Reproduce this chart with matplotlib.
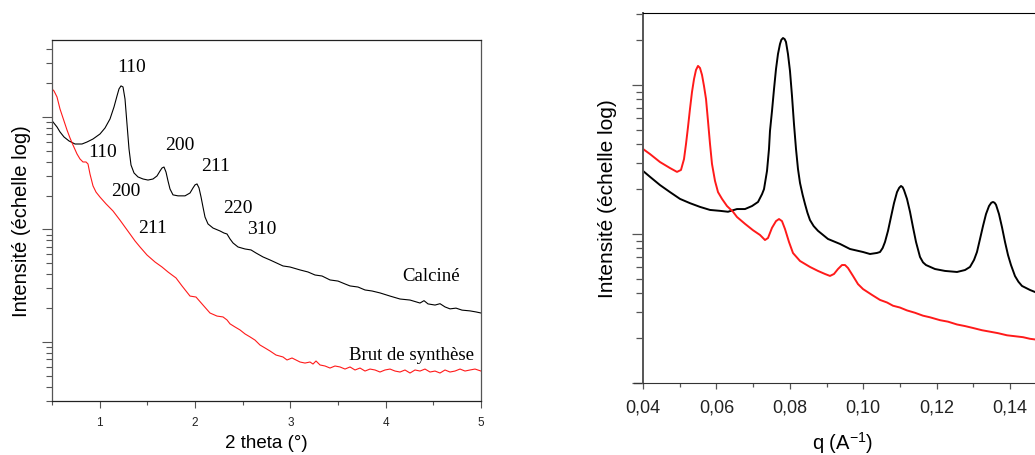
import matplotlib
matplotlib.use("Agg")
import matplotlib.pyplot as plt
from matplotlib.ticker import MultipleLocator, LogLocator, NullFormatter, FuncFormatter

plt.rcParams['font.family'] = ['Liberation Sans', 'DejaVu Sans']
plt.rcParams['mathtext.fontset'] = 'custom'
plt.rcParams['mathtext.rm'] = 'Liberation Sans'
plt.rcParams['mathtext.it'] = 'Liberation Sans'

# ---------------- Left panel data (2 theta in degrees, intensity log scale) ----------------
theta_calcine = [0.5105, 0.5524, 0.5839, 0.6259, 0.6783, 0.7413, 0.8147, 0.8671, 0.9301, 1.0035,
                 1.0560, 1.1084, 1.1504, 1.1818, 1.2028, 1.2238, 1.2448, 1.2658, 1.2867, 1.3077,
                 1.3287, 1.3602, 1.4021, 1.4546, 1.5070, 1.5595, 1.6014, 1.6329, 1.6539, 1.6748,
                 1.6958, 1.7168, 1.7378, 1.7692, 1.8217, 1.8952, 1.9476, 1.9791, 2.0001, 2.0210,
                 2.0420, 2.0630, 2.0840, 2.1050, 2.1364, 2.1889, 2.2623, 2.3042, 2.3357, 2.3672,
                 2.3987, 2.4511, 2.5245, 2.5875, 2.6399, 2.7134, 2.7868, 2.9231, 2.9966, 3.1015,
                 3.1854, 3.2588, 3.3323, 3.4162, 3.5001, 3.5735, 3.6260, 3.7099, 3.7834, 3.8568,
                 3.9407, 4.0456, 4.1505, 4.2554, 4.3603, 4.4023, 4.4442, 4.5177, 4.5701, 4.6225,
                 4.6750, 4.7379, 4.8009, 4.8848, 4.9477, 5.0002]
I_calcine = [90300, 81500, 73600, 66400, 61200, 57500, 57500, 59900, 63700, 70600,
             79800, 96000, 122700, 153700, 177500, 188800, 184800, 144500, 86600, 52000,
             37400, 31800, 29300, 28100, 27500, 28100, 29900, 33100, 35200, 35900,
             32400, 27000, 22900, 20300, 19900, 19900, 21100, 23400, 24900, 25400,
             23400, 19500, 15800, 12900, 11200, 10300, 9700, 9300, 9120, 8240,
             7590, 6990, 6710, 6580, 6180, 5700, 5360, 4740, 4640, 4370,
             4190, 3940, 3860, 3560, 3480, 3280, 3150, 3080, 2900, 2840,
             2730, 2560, 2410, 2360, 2220, 2330, 2180, 2130, 2190, 2050,
             1970, 2000, 1920, 1890, 1850, 1810]

theta_brut = [0.5000, 0.5210, 0.5524, 0.5839, 0.6259, 0.6573, 0.6888, 0.7203, 0.7622, 0.7937,
              0.8252, 0.8567, 0.8776, 0.8986, 0.9301, 0.9616, 1.0035, 1.0664, 1.1399, 1.2133,
              1.2658, 1.3182, 1.3707, 1.4231, 1.4966, 1.5805, 1.6539, 1.7168, 1.7588, 1.8007,
              1.8637, 1.9476, 2.0106, 2.0840, 2.1574, 2.2308, 2.2938, 2.3357, 2.3672, 2.4196,
              2.4721, 2.5245, 2.5770, 2.6294, 2.6819, 2.7343, 2.7868, 2.8497, 2.9231, 2.9651,
              3.0176, 3.0595, 3.1015, 3.1539, 3.2064, 3.2378, 3.2693, 3.3113, 3.3637, 3.4162,
              3.4686, 3.5211, 3.5735, 3.6260, 3.6784, 3.7309, 3.7833, 3.8358, 3.8882, 3.9407,
              3.9931, 4.0456, 4.0980, 4.1505, 4.2029, 4.2554, 4.3078, 4.3603, 4.4127, 4.4652,
              4.5176, 4.5701, 4.6225, 4.6750, 4.7274, 4.7799, 4.8323, 4.8848, 4.9372, 5.0000]
I_brut = [177500, 170300, 150600, 117800, 92100, 76600, 65000, 56300, 46900, 42300,
          39800, 39800, 38200, 31100, 24400, 21500, 19400, 16900, 14600, 12100,
          10500, 9120, 7910, 6990, 5930, 5140, 4640, 4190, 3940, 3710,
          3150, 2560, 2510, 2130, 1810, 1700, 1670, 1570, 1450, 1360,
          1280, 1180, 1110, 1040, 940, 885, 832, 766, 736, 692,
          721, 692, 664, 650, 664, 637, 678, 625, 612, 587,
          612, 600, 575, 600, 564, 587, 552, 575, 564, 541,
          564, 575, 552, 541, 564, 530, 564, 552, 575, 541,
          552, 530, 564, 541, 552, 575, 552, 564, 575, 552]

left_ticks = [1, 2, 3, 4, 5]

# Peak labels (Miller indices) for the left panel
hkl_labels = ['110', '200', '211', '220', '310', '110', '200', '211']
hkl_x = [1.339, 1.843, 2.220, 2.451, 2.703, 1.035, 1.276, 1.559]
hkl_y = [278000, 57500, 37400, 15800, 10300, 48900, 22000, 10500]

sample_labels = ['Calciné', 'Brut de synthèse']
sample_x = [4.476, 4.276]
sample_y = [3860, 782]

# ---------------- Right panel data (q in A^-1, intensity log scale) ----------------
q_calcine = [0.0400, 0.0419, 0.04463, 0.04736, 0.05008, 0.0528, 0.05553, 0.05826, 0.06098, 0.06316,
             0.0656, 0.06779, 0.0697, 0.07134, 0.07243, 0.07297, 0.07379, 0.07433, 0.0746, 0.07515,
             0.0757, 0.07624, 0.07678, 0.07733, 0.0777, 0.07815, 0.0786, 0.07896, 0.0795, 0.08005,
             0.0806, 0.08114, 0.08169, 0.08223, 0.08278, 0.0835, 0.08414, 0.0848, 0.0855, 0.0865,
             0.08768, 0.0904, 0.0937, 0.0964, 0.09995,
             0.10185, 0.10376, 0.10458, 0.10530, 0.10594, 0.10676, 0.10757, 0.10839, 0.10921, 0.10980,
             0.1103, 0.11075, 0.11112, 0.11193, 0.11275, 0.11357, 0.11439, 0.11548, 0.11630, 0.11711,
             0.11956, 0.12229, 0.12556, 0.12774,
             0.1291, 0.1302, 0.1310, 0.13183, 0.13264, 0.13346, 0.13428, 0.13490, 0.13537, 0.13580,
             0.13619, 0.1370, 0.13782, 0.13864, 0.13946, 0.14027, 0.14136, 0.14230, 0.14327, 0.14545,
             0.14681, 0.1509]
Iq_calcine = [265, 242, 213, 191, 172, 161, 152, 145, 143, 141,
              147, 147, 154, 164, 185, 200, 265, 372, 491, 669,
              940, 1279, 1614, 1884, 2010, 2066, 2030, 1944, 1614, 1242,
              843, 547, 372, 273, 220, 183, 159, 139, 124, 113,
              105, 92.6, 85.7, 79.3, 75.7,
              73.4, 74.6, 75.7, 80.5, 88.4, 105, 130, 161, 191, 204,
              210, 206, 197, 172, 141, 111, 88.4, 70.1, 64.5, 61.9,
              58.2, 56.5, 55.6, 57.3,
              60.1, 67.0, 75.7, 92.6, 113, 136, 154, 162, 164, 162,
              157, 136, 111, 88.4, 72.2, 61.9, 52.2, 47.8, 44.8, 42.1,
              40.8, 38.4]

q_brut = [0.0400, 0.0419, 0.04463, 0.04736, 0.04926, 0.05035, 0.05117, 0.05172, 0.05226, 0.0528,
          0.05335, 0.0539, 0.05444, 0.05499, 0.05553, 0.05608, 0.05662, 0.05717, 0.05771, 0.05826,
          0.0588, 0.05962, 0.06044, 0.06153, 0.06289, 0.06452, 0.06561, 0.06779, 0.06997, 0.07188,
          0.07324, 0.07406, 0.07515, 0.07624, 0.07706, 0.07787, 0.07869, 0.07978, 0.08087, 0.08278,
          0.0855, 0.08768, 0.08959, 0.09095, 0.09204, 0.09313, 0.09422, 0.09504, 0.09586, 0.09722,
          0.09858, 0.09995, 0.1024, 0.10458, 0.10649, 0.10812, 0.1100, 0.11193, 0.11411, 0.11629,
          0.1182, 0.12093, 0.1231, 0.12556, 0.12774, 0.12992, 0.13237, 0.13455, 0.13673, 0.13918,
          0.14136, 0.14354, 0.14545, 0.14681, 0.1509]
Iq_brut = [372, 344, 304, 277, 261, 269, 318, 402, 522, 690,
           897, 1096, 1261, 1343, 1300, 1167, 984, 805, 573, 402,
           295, 227, 191, 172, 154, 141, 130, 117, 106, 98.5,
           91.1, 94.0, 110, 122, 126, 122, 108, 88.4, 74.5, 65.9,
           60.1, 56.5, 53.9, 52.3, 53.9, 58.2, 61.9, 61.9, 59.1, 52.3,
           46.1, 42.7, 39.0, 36.1, 34.7, 33.0, 32.1, 30.7, 29.6, 28.3,
           27.6, 26.4, 25.8, 24.7, 24.1, 23.4, 22.6, 22.1, 21.6, 20.9,
           20.6, 20.3, 19.8, 19.6, 19.1]

right_ticks = [0.04, 0.06, 0.08, 0.10, 0.12, 0.14]

# ---------------- Figure ----------------
W, H = 1035, 456
fig = plt.figure(figsize=(W / 100, H / 100), dpi=100)

spine_grey = '#555555'
red = '#ff1a1a'

# Left axes
axL = fig.add_axes([52 / W, 1 - 402 / H, (481 - 52) / W, (402 - 41) / H])
axL.plot(theta_calcine, I_calcine, color='black', lw=0.8)
axL.plot(theta_brut, I_brut, color=red, lw=0.8)
axL.set_yscale('log')
axL.set_xlim(0.5, 5)
axL.set_ylim(299, 4.83e5)
axL.set_xticks(left_ticks)
axL.set_xticklabels([str(t) for t in left_ticks])
axL.xaxis.set_minor_locator(MultipleLocator(0.5))
axL.yaxis.set_major_locator(LogLocator(base=10))
axL.yaxis.set_minor_locator(LogLocator(base=10, subs=range(2, 10)))
axL.yaxis.set_major_formatter(NullFormatter())
axL.yaxis.set_minor_formatter(NullFormatter())
axL.tick_params(axis='x', which='major', direction='out', length=5, width=0.8,
                colors=spine_grey, labelsize=8.5, labelcolor='#222222', pad=6)
axL.tick_params(axis='x', which='minor', direction='out', length=3, width=0.8, colors=spine_grey)
axL.tick_params(axis='y', which='major', direction='out', length=7, width=0.8, colors=spine_grey)
axL.tick_params(axis='y', which='minor', direction='out', length=4, width=0.8, colors=spine_grey)
for s in ['left', 'right']:
    axL.spines[s].set_color(spine_grey)
for s in ['top', 'bottom']:
    axL.spines[s].set_color('#222222')
for sp in axL.spines.values():
    sp.set_linewidth(0.9)
axL.set_xlabel('2 theta (°)', fontsize=13.5, labelpad=4)
axL.set_ylabel('Intensité (échelle log)', fontsize=14.5)
axL.yaxis.set_label_coords(-0.049, 0.5)

for t, x, y in zip(hkl_labels, hkl_x, hkl_y):
    axL.text(x, y, t, ha='center', va='center', fontsize=14,
             family=['Liberation Serif', 'DejaVu Serif'])
for t, x, y in zip(sample_labels, sample_x, sample_y):
    axL.text(x, y, t, ha='center', va='center', fontsize=13.5,
             family=['Liberation Serif', 'DejaVu Serif'])

# Right axes (extends past the right edge of the figure)
px_per_q = 3670.0
right_w = 0.12 * px_per_q
axR = fig.add_axes([643 / W, 1 - 384 / H, right_w / W, (384 - 14) / H])
axR.plot(q_calcine, Iq_calcine, color='black', lw=1.4, solid_joinstyle='round')
axR.plot(q_brut, Iq_brut, color=red, lw=1.4, solid_joinstyle='round')
axR.set_yscale('log')
axR.set_xlim(0.04, 0.16)
axR.set_ylim(10, 3041)
axR.set_xticks(right_ticks)
axR.xaxis.set_major_formatter(FuncFormatter(lambda v, p: f"{v:.2f}".replace('.', ',')))
axR.xaxis.set_minor_locator(MultipleLocator(0.01))
axR.yaxis.set_major_locator(LogLocator(base=10))
axR.yaxis.set_minor_locator(LogLocator(base=10, subs=range(2, 10)))
axR.yaxis.set_major_formatter(NullFormatter())
axR.yaxis.set_minor_formatter(NullFormatter())
axR.tick_params(axis='x', which='major', direction='out', length=4, width=0.9,
                colors=spine_grey, labelsize=13, labelcolor='#222222', pad=7)
axR.tick_params(axis='x', which='minor', direction='out', length=3, width=0.9, colors=spine_grey)
axR.tick_params(axis='y', which='major', direction='out', length=8, width=0.9, colors=spine_grey)
axR.tick_params(axis='y', which='minor', direction='out', length=5, width=0.9, colors=spine_grey)
axR.spines['left'].set_color(spine_grey)
axR.spines['left'].set_linewidth(1.4)
axR.spines['bottom'].set_color('#333333')
axR.spines['top'].set_color('black')
axR.spines['right'].set_visible(False)
axR.set_xlabel('q (A$^{-1}$)', fontsize=14.5)
axR.xaxis.set_label_coords((843 - 643) / right_w, -0.125)
axR.set_ylabel('Intensité (échelle log)', fontsize=15)
axR.yaxis.set_label_coords(-0.059, 0.5)
axR.plot([-0.02, 0], [0, 0], transform=axR.transAxes, color='#333333', lw=0.9, clip_on=False)

fig.savefig('out.png', dpi=100)
